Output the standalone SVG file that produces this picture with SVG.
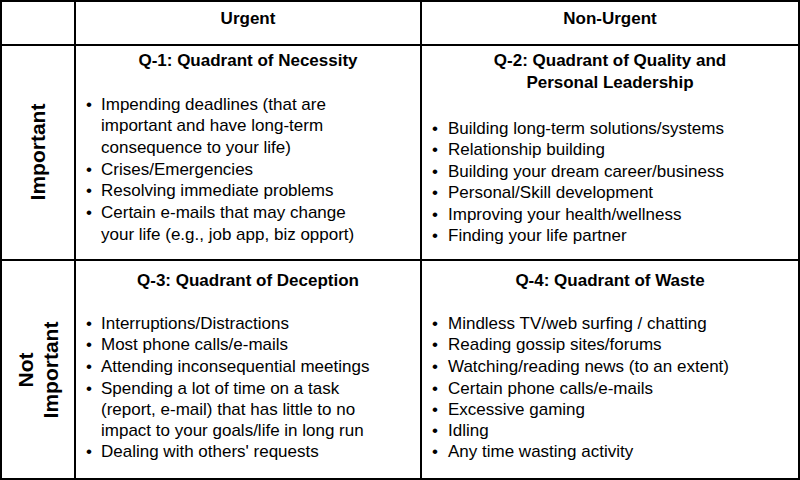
<svg xmlns="http://www.w3.org/2000/svg" width="800" height="480" viewBox="0 0 800 480">
<style>
text{font-family:"Liberation Sans",Arial,sans-serif;font-size:17px;fill:#000}
.h{font-weight:bold;text-anchor:middle}
.v{font-weight:bold;font-size:21px;text-anchor:middle}
line{stroke:#000;stroke-width:2}
</style>
<rect x="1" y="1" width="798" height="478" fill="#fff" stroke="#000" stroke-width="2"/>
<g id="grid">
<line x1="75" y1="0" x2="75" y2="480"/>
<line x1="421" y1="0" x2="421" y2="480"/>
<line x1="0" y1="45" x2="800" y2="45"/>
<line x1="0" y1="260" x2="800" y2="260"/>
</g>
<g id="headers">
<text class="h" x="248" y="24">Urgent</text>
<text class="h" x="610" y="24">Non-Urgent</text>
<text class="v" transform="translate(45,152) rotate(-90)">Important</text>
<text class="v" transform="translate(33,370) rotate(-90)">Not</text>
<text class="v" transform="translate(58,370) rotate(-90)">Important</text>
</g>
<g id="q1">
<text class="h" x="248" y="66">Q-1: Quadrant of Necessity</text>
<text x="86" y="110">•</text><text x="101" y="110">Impending deadlines (that are</text>
<text x="101" y="131">important and have long-term</text>
<text x="101" y="153">consequence to your life)</text>
<text x="86" y="175">•</text><text x="101" y="175">Crises/Emergencies</text>
<text x="86" y="196">•</text><text x="101" y="196">Resolving immediate problems</text>
<text x="86" y="218">•</text><text x="101" y="218">Certain e-mails that may change</text>
<text x="101" y="240">your life (e.g., job app, biz opport)</text>
</g>
<g id="q2">
<text class="h" x="610" y="66">Q-2: Quadrant of Quality and</text>
<text class="h" x="610" y="88">Personal Leadership</text>
<text x="432" y="134">•</text><text x="448" y="134">Building long-term solutions/systems</text>
<text x="432" y="155">•</text><text x="448" y="155">Relationship building</text>
<text x="432" y="177">•</text><text x="448" y="177">Building your dream career/business</text>
<text x="432" y="198">•</text><text x="448" y="198">Personal/Skill development</text>
<text x="432" y="220">•</text><text x="448" y="220">Improving your health/wellness</text>
<text x="432" y="241">•</text><text x="448" y="241">Finding your life partner</text>
</g>
<g id="q3">
<text class="h" x="248" y="286">Q-3: Quadrant of Deception</text>
<text x="86" y="329">•</text><text x="101" y="329">Interruptions/Distractions</text>
<text x="86" y="350">•</text><text x="101" y="350">Most phone calls/e-mails</text>
<text x="86" y="372">•</text><text x="101" y="372">Attending inconsequential meetings</text>
<text x="86" y="394">•</text><text x="101" y="394">Spending a lot of time on a task</text>
<text x="101" y="415">(report, e-mail) that has little to no</text>
<text x="101" y="436">impact to your goals/life in long run</text>
<text x="86" y="457">•</text><text x="101" y="457">Dealing with others' requests</text>
</g>
<g id="q4">
<text class="h" x="610" y="286">Q-4: Quadrant of Waste</text>
<text x="432" y="329">•</text><text x="448" y="329">Mindless TV/web surfing / chatting</text>
<text x="432" y="350">•</text><text x="448" y="350">Reading gossip sites/forums</text>
<text x="432" y="372">•</text><text x="448" y="372">Watching/reading news (to an extent)</text>
<text x="432" y="394">•</text><text x="448" y="394">Certain phone calls/e-mails</text>
<text x="432" y="415">•</text><text x="448" y="415">Excessive gaming</text>
<text x="432" y="436">•</text><text x="448" y="436">Idling</text>
<text x="432" y="457">•</text><text x="448" y="457">Any time wasting activity</text>
</g>
</svg>
